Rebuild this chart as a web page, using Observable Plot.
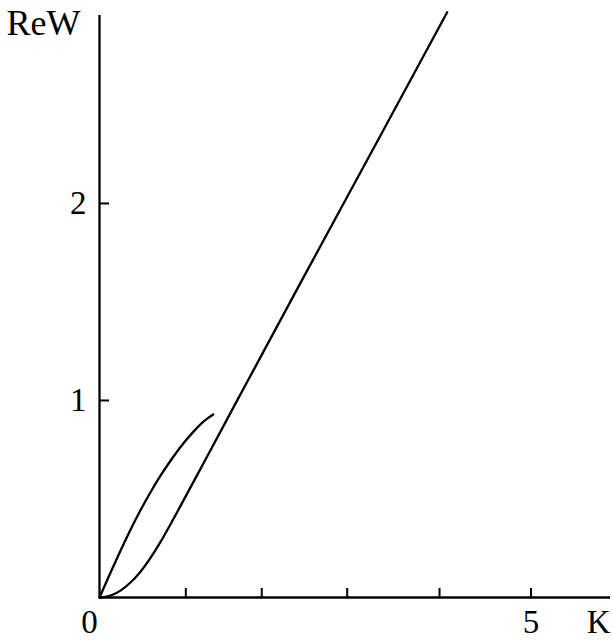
<!DOCTYPE html>
<html>
<head>
<meta charset="utf-8">
<script src="https://cdn.jsdelivr.net/npm/d3@7"></script>
<script src="https://cdn.jsdelivr.net/npm/@observablehq/plot@0.6"></script>
<style>
  html, body { margin: 0; padding: 0; background: #fff; }
  #chart svg { display: block; }
</style>
</head>
<body>
<div id="chart"></div>
<script>
// Lower branch: starts flat at the origin, then rises linearly
const lowerK   = [0, 0.0695, 0.151, 0.243, 0.359, 0.475, 0.591, 0.707, 0.823, 0.939, 1.518, 2.329, 3.256, 4.029];
const lowerReW = [0, 0.003, 0.014, 0.035, 0.076, 0.131, 0.201, 0.282, 0.372, 0.465, 0.937, 1.597, 2.345, 2.971];

// Upper branch: steep start at the origin, bending over and ending near K = 1.3
const upperK   = [0, 0.127, 0.243, 0.359, 0.475, 0.591, 0.707, 0.823, 0.939, 1.089, 1.205, 1.318];
const upperReW = [0, 0.126, 0.237, 0.344, 0.443, 0.534, 0.618, 0.694, 0.764, 0.842, 0.893, 0.929];

// Axis ticks and labels
const kTicks = [1, 1.88, 2.87, 3.94, 5];
const kOrigin = 0;
const kLabelled = 5;
const wTicks = [1, 2];
const wTickLabels = ["1", "2"];
const xTitle = "K";
const yTitle = "ReW";

const lower = lowerK.map((k, i) => ({k, w: lowerReW[i]}));
const upper = upperK.map((k, i) => ({k, w: upperReW[i]}));

const W = 613, H = 640;
const mL = 99, mR = 3, mT = 15, mB = 43;
const innerW = W - mL - mR, innerH = H - mT - mB;
const font = "Liberation Serif, Times New Roman, serif";
const fs = 33;
const ink = "#000";

const chart = Plot.plot({
  width: W,
  height: H,
  marginLeft: mL,
  marginRight: mR,
  marginTop: mT,
  marginBottom: mB,
  x: {domain: [0, 5.921], axis: null},
  y: {domain: [0, 2.954], axis: null},
  style: {fontFamily: font, background: "#fff", overflow: "visible"},
  marks: [
    // axes
    Plot.ruleY([0], {stroke: ink, strokeWidth: 2.3}),
    Plot.ruleX([0], {stroke: ink, strokeWidth: 2.3}),
    // inward ticks
    Plot.ruleX(kTicks, {x: d => d, stroke: ink, strokeWidth: 2, insetTop: innerH - 9}),
    Plot.ruleY(wTicks, {y: d => d, stroke: ink, strokeWidth: 2, insetRight: innerW - 10}),
    // tick labels
    Plot.text([kOrigin], {x: d => d, y: 0, text: d => String(d), dx: -10, dy: 25,
      fontSize: fs, fill: ink, textAnchor: "middle", lineAnchor: "middle"}),
    Plot.text([kLabelled], {x: d => d, y: 0, text: d => String(d), dx: 0, dy: 25,
      fontSize: fs, fill: ink, textAnchor: "middle", lineAnchor: "middle"}),
    Plot.text(wTicks, {x: 0, y: d => d, text: (d, i) => wTickLabels[i], dx: -13,
      fontSize: fs, fill: ink, textAnchor: "end", lineAnchor: "middle"}),
    // axis titles
    Plot.text([xTitle], {frameAnchor: "bottom-right", text: d => d, dy: 25, dx: 0,
      fontSize: fs, fill: ink, textAnchor: "end", lineAnchor: "middle"}),
    Plot.text([yTitle], {frameAnchor: "top-left", text: d => d, dx: -19, dy: 8,
      fontSize: 36, fill: ink, textAnchor: "end", lineAnchor: "middle"}),
    // dispersion curves
    Plot.line(lower, {x: "k", y: "w", stroke: ink, strokeWidth: 2.3, curve: "monotone-x"}),
    Plot.line(upper, {x: "k", y: "w", stroke: ink, strokeWidth: 2.3, curve: "monotone-x"})
  ]
});

document.getElementById("chart").appendChild(chart);
</script>
</body>
</html>
